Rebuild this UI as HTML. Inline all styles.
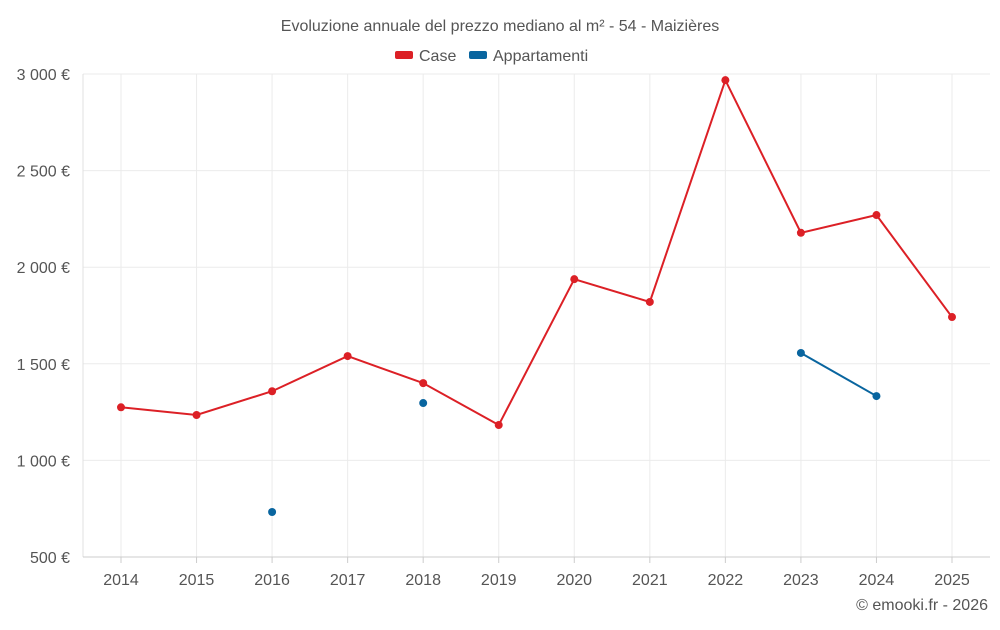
<!DOCTYPE html>
<html><head><meta charset="utf-8"><style>
body{margin:0;background:#fff;font-family:"Liberation Sans",sans-serif;}
svg text{font-family:"Liberation Sans",sans-serif;fill:#555;}
</style></head><body>
<svg id="chart" width="1000" height="625">
<text x="500" y="31" text-anchor="middle" font-size="16">Evoluzione annuale del prezzo mediano al m² - 54 - Maizières</text>
<g>
<g><rect x="395" y="51" width="18" height="8" rx="2" fill="#dc2026"/><text x="419" y="61" font-size="16">Case</text></g>
<g><rect x="469" y="51" width="18" height="8" rx="2" fill="#09659f"/><text x="493" y="61" font-size="16">Appartamenti</text></g>
</g>
<g id="grid"></g><g id="axes"></g><g id="series"></g>
<text x="988" y="610" text-anchor="end" font-size="16">© emooki.fr - 2026</text>
</svg>
<script>
const years=[2014,2015,2016,2017,2018,2019,2020,2021,2022,2023,2024,2025];
const caseValues=[1275,1235,1358,1540,1400,1183,1938,1820,2968,2178,2270,1742];
const apptValues=[null,null,733,null,1297,null,null,null,null,1556,1333,null];
const yTicks=[500,1000,1500,2000,2500,3000];
const yTickLabels=["500 €","1 000 €","1 500 €","2 000 €","2 500 €","3 000 €"];
const L=83,R=990,T=74,B=557,yMin=500,yMax=3000;
const NS="http://www.w3.org/2000/svg";
function xs(i){return 121+i*(952-121)/(years.length-1);}
function ys(v){return B-(v-yMin)/(yMax-yMin)*(B-T);}
function mk(tag,attrs,parent){const e=document.createElementNS(NS,tag);for(const k in attrs)e.setAttribute(k,attrs[k]);document.getElementById(parent).appendChild(e);return e;}
yTicks.forEach((t,i)=>{
 const g=mk('line',{x1:L,x2:R,y1:ys(t),y2:ys(t),stroke:'#ebebeb'},'grid');
 
 
 const tx=mk('text',{x:70,y:ys(t)+6,'text-anchor':'end','font-size':16},'axes');
 tx.textContent=yTickLabels[i];
 
 
});
years.forEach((y,i)=>{
 const g=mk('line',{x1:xs(i),x2:xs(i),y1:T,y2:B,stroke:'#ebebeb'},'grid');
 
 
 const tk=mk('line',{x1:xs(i),x2:xs(i),y1:B,y2:B+6,stroke:'#ccc'},'axes');
 
 
 const tx=mk('text',{x:xs(i),y:585,'text-anchor':'middle','font-size':16},'axes');
 tx.textContent=y;
 
 
});
const la=mk('line',{x1:L,x2:L,y1:T,y2:B,stroke:'#e0e0e0'},'axes');


const lb=mk('line',{x1:L,x2:R,y1:B,y2:B,stroke:'#ccc'},'axes');


function drawSeries(vals,color,name){
 let seg=[];
 const segs=[];
 vals.forEach((v,i)=>{if(v==null){if(seg.length)segs.push(seg);seg=[];}else seg.push([xs(i),ys(v)]);});
 if(seg.length)segs.push(seg);
 segs.forEach(s=>{if(s.length>1){
  const p=mk('polyline',{points:s.map(q=>q.join(',')).join(' '),fill:'none',stroke:color,'stroke-width':2},'series');
  
  
 }});
 vals.forEach((v,i)=>{if(v==null)return;
  const c=mk('circle',{cx:xs(i),cy:ys(v),r:4,fill:color},'series');
  
  
 });
}
drawSeries(caseValues,'#dc2026','case');
drawSeries(apptValues,'#09659f','appartamenti');
</script>
</body></html>
